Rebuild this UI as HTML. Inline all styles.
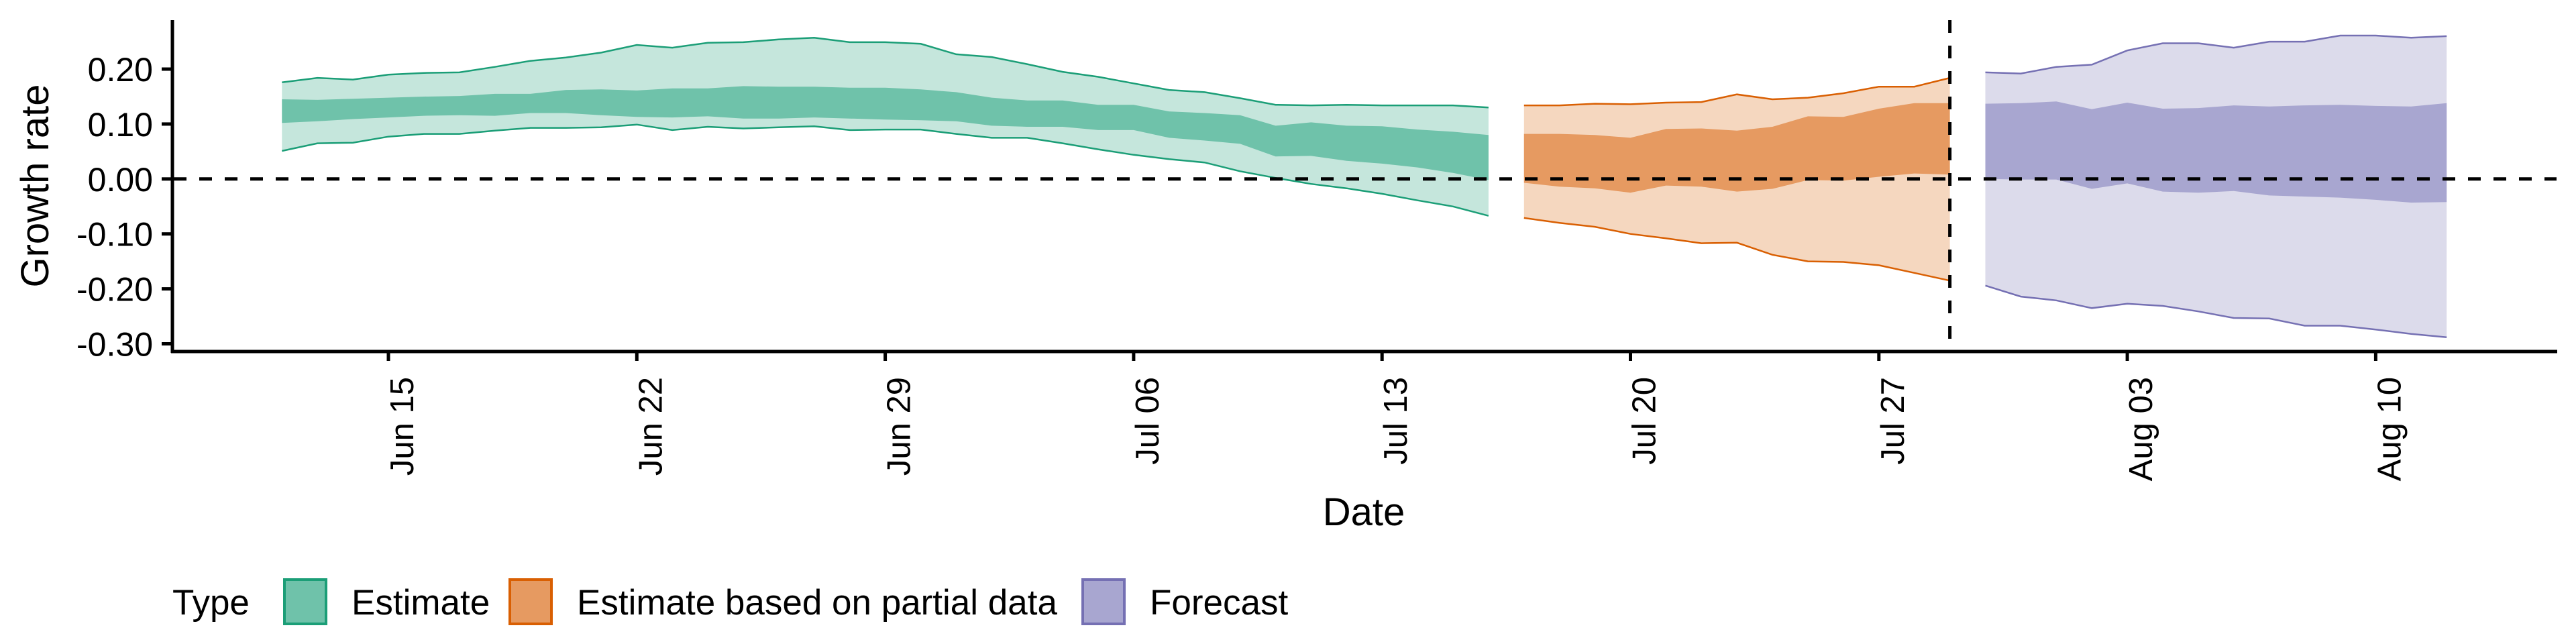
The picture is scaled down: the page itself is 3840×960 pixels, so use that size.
<!DOCTYPE html>
<html><head><meta charset="utf-8"><style>
html,body{margin:0;padding:0;background:#fff;}
svg{display:block;font-family:"Liberation Sans",sans-serif;}
</style></head><body>
<svg id="chart" width="3840" height="960" viewBox="0 0 3840 960">
<g id="bands"></g>
<g id="axes"></g>
<g id="legend"></g>
</svg>
<script>
// Dates as day offsets from Jun 12
const estStart = 0, partStart = 35, foreStart = 48;
const estUpper90 = [.176,.184,.181,.190,.193,.194,.204,.215,.221,.230,.244,.239,.248,.249,.254,.257,.249,.249,.246,.227,.222,.209,.195,.186,.174,.162,.158,.147,.135,.134,.135,.134,.134,.134,.130];
const estUpper50 = [.145,.144,.146,.148,.150,.151,.155,.155,.162,.163,.161,.165,.165,.169,.168,.168,.166,.166,.163,.158,.148,.143,.143,.135,.135,.123,.120,.116,.097,.103,.097,.096,.090,.086,.080];
const estLower50 = [.102,.105,.109,.112,.115,.116,.115,.120,.120,.116,.113,.112,.114,.110,.110,.112,.110,.108,.107,.105,.097,.095,.095,.089,.089,.075,.070,.064,.041,.042,.033,.028,.021,.011,-.002];
const estLower90 = [.051,.065,.066,.077,.082,.082,.088,.093,.093,.094,.099,.089,.095,.092,.094,.096,.089,.090,.090,.082,.075,.075,.065,.054,.044,.036,.030,.014,.002,-.009,-.017,-.027,-.039,-.050,-.067];
const partUpper90 = [.134,.134,.137,.136,.139,.140,.154,.145,.148,.156,.168,.168,.184];
const partUpper50 = [.082,.082,.080,.075,.091,.092,.088,.095,.114,.113,.128,.138,.138];
const partLower50 = [-.007,-.014,-.017,-.025,-.012,-.014,-.023,-.018,-.002,-.003,.004,.010,.008];
const partLower90 = [-.071,-.080,-.087,-.100,-.108,-.117,-.116,-.138,-.150,-.151,-.157,-.171,-.185];
const foreUpper90 = [.194,.192,.204,.208,.234,.247,.247,.239,.250,.250,.261,.261,.257,.260];
const foreUpper50 = [.137,.138,.141,.127,.139,.128,.129,.134,.132,.134,.135,.133,.132,.138];
const foreLower50 = [0,-.001,-.001,-.018,-.008,-.023,-.025,-.022,-.030,-.032,-.034,-.038,-.043,-.042];
const foreLower90 = [-.194,-.214,-.221,-.235,-.227,-.231,-.241,-.253,-.254,-.267,-.267,-.274,-.282,-.288];
const yTicks = [0.2,0.1,0,-0.1,-0.2,-0.3];
const yTickLabels = ["0.20","0.10","0.00","-0.10","-0.20","-0.30"];
const xTickDays = [3,10,17,24,31,38,45,52,59];
const xTickLabels = ["Jun 15","Jun 22","Jun 29","Jul 06","Jul 13","Jul 20","Jul 27","Aug 03","Aug 10"];
const nowcastDay = 47;

const NS = "http://www.w3.org/2000/svg";
const X0 = 420.3, DAY = 52.9;
const x = d => X0 + d*DAY;
const Y0 = 266.8, UNIT = 819;
const y = v => Y0 - v*UNIT;
function mk(tag, attrs, parent){const e=document.createElementNS(NS,tag);for(const k in attrs)e.setAttribute(k,attrs[k]);parent.appendChild(e);return e;}
const bands = document.getElementById('bands');
const axes = document.getElementById('axes');
const legend = document.getElementById('legend');

function band(start, hi, lo, fill, parent){
  let pts = hi.map((v,i)=>x(start+i).toFixed(1)+','+y(v).toFixed(1));
  for(let i=lo.length-1;i>=0;i--) pts.push(x(start+i).toFixed(1)+','+y(lo[i]).toFixed(1));
  return mk('polygon',{points:pts.join(' '),fill:fill},parent);
}
function line(start, vals, color, parent){
  return mk('polyline',{points:vals.map((v,i)=>x(start+i).toFixed(1)+','+y(v).toFixed(1)).join(' '),fill:'none',stroke:color,'stroke-width':2.5},parent);
}
const series = [
 {name:'estimate',start:estStart,u9:estUpper90,u5:estUpper50,l5:estLower50,l9:estLower90,line:'#1b9e77',outer:'#c5e6dc',inner:'#6fc2aa'},
 {name:'partial',start:partStart,u9:partUpper90,u5:partUpper50,l5:partLower50,l9:partLower90,line:'#d95f02',outer:'#f5d7bf',inner:'#e69a61'},
 {name:'forecast',start:foreStart,u9:foreUpper90,u5:foreUpper50,l5:foreLower50,l9:foreLower90,line:'#7570b3',outer:'#dcdbeb',inner:'#a8a6d0'}
];
series.forEach(s=>{
  const g = mk('g',{},bands);
  
  
  const o = band(s.start,s.u9,s.l9,s.outer,g);
  
  
  const i = band(s.start,s.u5,s.l5,s.inner,g);
  
  
  const a = line(s.start,s.u9,s.line,g);
  
  
  const b = line(s.start,s.l9,s.line,g);
  
  
});
const zl = mk('line',{x1:259,x2:3811,y1:y(0),y2:y(0),stroke:'#000','stroke-width':5,'stroke-dasharray':'19 19'},axes);


const vl = mk('line',{x1:x(nowcastDay),x2:x(nowcastDay),y1:30,y2:524,stroke:'#000','stroke-width':5,'stroke-dasharray':'19 19'},axes);


const ya = mk('line',{x1:257,x2:257,y1:30,y2:526,stroke:'#000','stroke-width':5},axes);


const xa = mk('line',{x1:255,x2:3812,y1:524,y2:524,stroke:'#000','stroke-width':5},axes);


yTicks.forEach((v,i)=>{
  const t = mk('line',{x1:241,x2:257,y1:y(v),y2:y(v),stroke:'#000','stroke-width':5},axes);
  
  
  const l = mk('text',{x:228,y:y(v)+18,'text-anchor':'end','font-size':50,fill:'#000'},axes);
  l.textContent = yTickLabels[i];
  
  
});
xTickDays.forEach((d,i)=>{
  const t = mk('line',{x1:x(d),x2:x(d),y1:524,y2:538,stroke:'#000','stroke-width':5},axes);
  
  
  const l = mk('text',{transform:`translate(${x(d)+37},562) rotate(-90)`,'text-anchor':'end','font-size':49,fill:'#000'},axes);
  l.textContent = xTickLabels[i];
  
  
});
const yt = mk('text',{transform:'translate(72,277) rotate(-90)','text-anchor':'middle','font-size':58,fill:'#000'},axes);
yt.textContent='Growth rate';


const xt = mk('text',{x:2033,y:783,'text-anchor':'middle','font-size':58,fill:'#000'},axes);
xt.textContent='Date';


const lt = mk('text',{x:257,y:916,'font-size':53,fill:'#000'},legend);
lt.textContent='Type';


const legItems = [[422,'Estimate',series[0]],[758,'Estimate based on partial data',series[1]],[1612,'Forecast',series[2]]];
legItems.forEach(([lx,label,s])=>{
  const r = mk('rect',{x:lx+2,y:864,width:62,height:66,fill:s.inner,stroke:s.line,'stroke-width':4},legend);
  
  
  const t = mk('text',{x:lx+102,y:916,'font-size':53,fill:'#000'},legend);
  t.textContent = label;
  
  
});
</script>
</body></html>
